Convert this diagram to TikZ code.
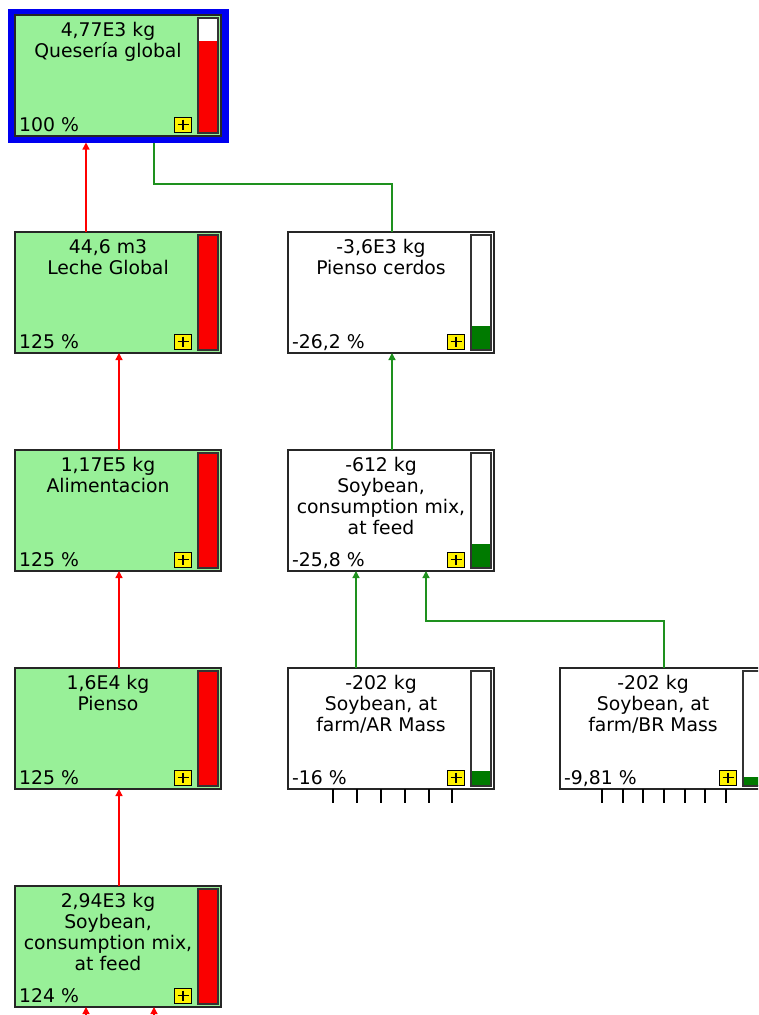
\documentclass[tikz,border=0pt]{standalone}
\usepackage{fontspec}
\setmainfont{DejaVu Sans}
\usetikzlibrary{calc,arrows.meta}
\definecolor{boxgreen}{RGB}{152,240,152}
\definecolor{barred}{RGB}{250,0,0}
\definecolor{bargreen}{RGB}{0,122,0}
\definecolor{linegreen}{RGB}{30,145,30}
\definecolor{qblue}{RGB}{0,0,240}
\tikzset{
  pbox/.style={draw=black!85, line width=1.2pt, minimum width=206pt, minimum height=121pt, inner sep=0pt, outer sep=0pt, anchor=north west},
  lbl/.style={font=\fontsize{18.8}{20.8}\selectfont, align=center, inner sep=0pt, anchor=north},
  pct/.style={font=\fontsize{18.8}{20.8}\selectfont, inner sep=0pt, anchor=base west},
  plusbox/.style={draw=black, fill=yellow, line width=0.9pt, minimum width=17pt, minimum height=15pt, inner sep=0pt, outer sep=0pt},
  barframe/.style={draw=black!80, line width=1.2pt},
  rline/.style={draw=red, line width=1.3pt, -{Triangle[width=7pt,length=7pt]}},
  gline/.style={draw=linegreen, line width=1.3pt},
  garrow/.style={gline, -{Triangle[width=7pt,length=7pt]}},
  tick/.style={draw=black, line width=1.2pt}
}
% #1 name, #2 left, #3 top, #4 fill, #5 label, #6 percent, #7 bar colour, #8 bar fraction
\newcommand\mkproc[8]{%
  \node[pbox, fill=#4] (#1) at (#2,#3) {};
  \node[lbl] (#1-t) at ($(#1.north west)+(93,7.5)$) {#5};
  \node[pct] (#1-p) at ($(#1.south west)+(4,-5)$) {#6};
  \node[plusbox] (#1-plus) at ($(#1.south west)+(168,-11.5)$) {};
  \draw[line width=1.1pt] ([xshift=3pt]#1-plus.west) -- ([xshift=-3pt]#1-plus.east);
  \draw[line width=1.1pt] ([yshift=-2.5pt]#1-plus.north) -- ([yshift=2.5pt]#1-plus.south);
  \fill[white] ($(#1.north west)+(183,3)$) rectangle ($(#1.south west)+(203,-3)$);
  \fill[#7] ($(#1.south west)+(183,-3)$) rectangle ($(#1.south west)+(203,{-3-115*#8})$);
  \draw[barframe] ($(#1.north west)+(183,3)$) rectangle ($(#1.south west)+(203,-3)$);
}
\begin{document}
\begin{tikzpicture}[x=1pt,y=-1pt]
\useasboundingbox (0,0) rectangle (758,1015);
\clip (0,0) rectangle (758,1015);
\fill[white] (0,0) rectangle (758,1015);

% blue selection frame
\node[draw=qblue, line width=7pt, minimum width=214pt, minimum height=127pt, inner sep=0pt] (qb) at (118,75.5) {};

\mkproc{q}{15}{15}{boxgreen}{4,77E3 kg\\Quesería global}{100 \%}{barred}{0.8}
\mkproc{leche}{15}{232}{boxgreen}{44,6 m3\\Leche Global}{125 \%}{barred}{1}
\mkproc{alim}{15}{450}{boxgreen}{1,17E5 kg\\Alimentacion}{125 \%}{barred}{1}
\mkproc{pienso}{15}{668}{boxgreen}{1,6E4 kg\\Pienso}{125 \%}{barred}{1}
\mkproc{soyL}{15}{886}{boxgreen}{2,94E3 kg\\Soybean,\\consumption mix,\\at feed}{124 \%}{barred}{0.992}

\mkproc{pc}{288}{232}{white}{-3,6E3 kg\\Pienso cerdos}{-26,2 \%}{bargreen}{0.21}
\mkproc{soyR}{288}{450}{white}{-612 kg\\Soybean,\\consumption mix,\\at feed}{-25,8 \%}{bargreen}{0.206}
\mkproc{ar}{288}{668}{white}{-202 kg\\Soybean, at\\farm/AR Mass}{-16 \%}{bargreen}{0.128}
\mkproc{br}{560}{668}{white}{-202 kg\\Soybean, at\\farm/BR Mass}{-9,81 \%}{bargreen}{0.078}

% red connectors (left column)
\coordinate (c1) at ($(leche.north west)+(71,0)$);
\draw[rline] (c1) -- (c1 |- qb.south);
\coordinate (c2) at ($(alim.north west)+(104,0)$);
\draw[rline] (c2) -- (c2 |- leche.south);
\coordinate (c3) at ($(pienso.north west)+(104,0)$);
\draw[rline] (c3) -- (c3 |- alim.south);
\coordinate (c4) at ($(soyL.north west)+(104,0)$);
\draw[rline] (c4) -- (c4 |- pienso.south);
\coordinate (s1) at ($(soyL.south west)+(71,12)$);
\draw[rline] (s1) -- (s1 |- soyL.south);
\coordinate (s2) at ($(soyL.south west)+(139,12)$);
\draw[rline] (s2) -- (s2 |- soyL.south);

% green connectors (right column)
\coordinate (g1) at ($(pc.north west)+(104,0)$);
\coordinate (g1q) at ($(q.south west)+(139,0)$);
\draw[gline] (g1) -- ++(0,-48) -| (g1q |- qb.south);
\coordinate (g2) at ($(soyR.north west)+(104,0)$);
\draw[garrow] (g2) -- (g2 |- pc.south);
\coordinate (g3) at ($(ar.north west)+(68,0)$);
\draw[garrow] (g3) -- (g3 |- soyR.south);
\coordinate (g4) at ($(br.north west)+(104,0)$);
\coordinate (g4s) at ($(soyR.south west)+(138,0)$);
\draw[garrow] (g4) -- ++(0,-47) -| (g4s);

% ticks under the lowest boxes
\foreach \dx in {45,69,93,117,141,164}
  \draw[tick] ($(ar.south west)+(\dx,0)$) -- ++(0,14);
\foreach \dx in {42,63,83,104,125,145,166}
  \draw[tick] ($(br.south west)+(\dx,0)$) -- ++(0,14);
\end{tikzpicture}
\end{document}
